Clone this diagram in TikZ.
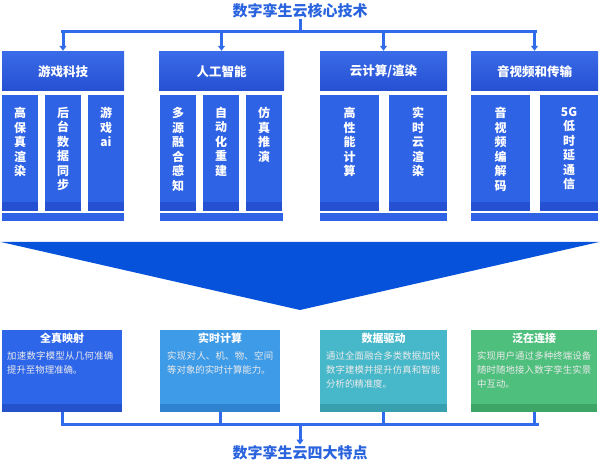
\documentclass[tikz,border=0pt]{standalone}
\usepackage{fontspec}
\setmainfont{Noto Sans CJK SC}
\XeTeXlinebreaklocale "zh"
\XeTeXlinebreakskip = 0pt plus 1pt
\usetikzlibrary{calc,arrows.meta}
\definecolor{mainblue}{HTML}{2F63E6}
\definecolor{darkblue}{HTML}{2550D2}
\definecolor{linkblue}{HTML}{2F6BEA}
\definecolor{titleblue}{HTML}{2A63DE}
\definecolor{tri}{HTML}{0752DA}
\definecolor{fa}{HTML}{2E66EA}\definecolor{fad}{HTML}{2452CC}
\definecolor{fb}{HTML}{3E9BE8}\definecolor{fbd}{HTML}{2F82CF}
\definecolor{fc}{HTML}{47B8C9}\definecolor{fcd}{HTML}{389FAE}
\definecolor{fd}{HTML}{4EBF7D}\definecolor{fdd}{HTML}{3DA566}
\begin{document}
\begin{tikzpicture}[x=1pt,y=-1pt,
  ttl/.style={font=\bfseries\fontsize{15}{18}\selectfont, text=titleblue, inner sep=1pt},
  hdr/.style={rectangle, top color=mainblue!95!white, bottom color=darkblue, draw=none, text=white, font=\bfseries\fontsize{12.5}{14}\selectfont, inner sep=0pt},
  colbox/.style={rectangle, fill=mainblue, inner sep=0pt},
  strip/.style={rectangle, fill=mainblue, inner sep=0pt},
  coltxt/.style={anchor=north, text=white, align=center, font=\bfseries\fontsize{12}{14.5}\selectfont, inner sep=0pt},
  link/.style={draw=linkblue, line width=3pt},
  arr/.style={link, -{Triangle[width=7pt,length=5pt]}},
  feat/.style={rectangle, inner sep=0pt, minimum height=82pt},
  ftitle/.style={anchor=north, text=white, font=\bfseries\fontsize{11}{13}\selectfont, inner sep=0pt},
  fdesc/.style={anchor=north west, text=white!92!black, font=\fontsize{9.4}{14}\selectfont, inner sep=0pt, align=justify},
]
\useasboundingbox (0,0) rectangle (600,465);

% top title and bracket
\node[ttl] (t1) at (300,11) {数字孪生云核心技术};
\coordinate (hub) at (300,32);
\coordinate (hl) at (62.5,32);
\coordinate (hr) at (535.5,32);
\draw[link] (t1.south) -- (hub);
\draw[link, line cap=rect] (hl) -- (hr);

% headers
\node[hdr, minimum width=122pt, minimum height=39pt] (h1) at (63,71.5) {游戏科技};
\node[hdr, minimum width=125pt, minimum height=39pt] (h2) at (221.5,71.5) {人工智能};
\node[hdr, minimum width=127pt, minimum height=39pt] (h3) at (383.5,71.5) {云计算/渲染};
\node[hdr, minimum width=127pt, minimum height=39pt] (h4) at (534.5,71.5) {音视频和传输};
\foreach \h in {1,2,3,4} {
  \coordinate (a\h) at (h\h.north |- hub);
  \draw[arr] (a\h) -- ([yshift=1pt]h\h.north);
}

% columns group 1
\node[colbox, minimum width=36pt, minimum height=115pt] (c11) at (20,153) {};
\node[colbox, minimum width=36pt, minimum height=115pt] (c12) at (63,153) {};
\node[colbox, minimum width=36pt, minimum height=115pt] (c13) at (106,153) {};
% group 2
\node[colbox, minimum width=36pt, minimum height=115pt] (c21) at (178,153) {};
\node[colbox, minimum width=36pt, minimum height=115pt] (c22) at (221,153) {};
\node[colbox, minimum width=36pt, minimum height=115pt] (c23) at (264,153) {};
% group 3
\node[colbox, minimum width=59pt, minimum height=115pt] (c31) at (349.5,153) {};
\node[colbox, minimum width=58pt, minimum height=115pt] (c32) at (418,153) {};
% group 4
\node[colbox, minimum width=59pt, minimum height=115pt] (c41) at (500.5,153) {};
\node[colbox, minimum width=58pt, minimum height=115pt] (c42) at (569,153) {};
\foreach \c in {c11,c12,c13,c21,c22,c23,c31,c32,c41,c42} {
  \fill[darkblue] ($(\c.south west)+(0,-9)$) rectangle (\c.south east);
}

\node[coltxt] (x11) at (20,107) {高\\保\\真\\渲\\染};
\node[coltxt] (x12) at (63,107) {后\\台\\数\\据\\同\\步};
\node[coltxt] (x13) at (106,107) {游\\戏\\ai};
\node[coltxt] (x21) at (178,107) {多\\源\\融\\合\\感\\知};
\node[coltxt] (x22) at (221,107) {自\\动\\化\\重\\建};
\node[coltxt] (x23) at (264,107) {仿\\真\\推\\演};
\node[coltxt] (x31) at (349.5,107) {高\\性\\能\\计\\算};
\node[coltxt] (x32) at (418,107) {实\\时\\云\\渲\\染};
\node[coltxt] (x41) at (500.5,107) {音\\视\\频\\编\\解\\码};
\node[coltxt] (x42) at (569,107) {5G\\低\\时\\延\\通\\信};

% bottom strips
\node[strip, minimum width=122pt, minimum height=8pt] (s1) at (63,217) {};
\node[strip, minimum width=123pt, minimum height=8pt] (s2) at (221,217) {};
\node[strip, minimum width=127pt, minimum height=8pt] (s3) at (383.5,217) {};
\node[strip, minimum width=127pt, minimum height=8pt] (s4) at (534.5,217) {};

% big triangle
\coordinate (tl) at (1,242);
\coordinate (tr) at (599,242);
\coordinate (tt) at (300,310);
\fill[tri] (tl) -- (tr) -- (tt) -- cycle;

% feature boxes
\node[feat, fill=fa, minimum width=120pt] (f1) at (62,371) {};
\node[feat, fill=fb, minimum width=120pt] (f2) at (220,371) {};
\node[feat, fill=fc, minimum width=127pt] (f3) at (383.5,371) {};
\node[feat, fill=fd, minimum width=126pt] (f4) at (534,371) {};
\fill[fad] ($(f1.south west)+(0,-8)$) rectangle (f1.south east);
\fill[fbd] ($(f2.south west)+(0,-8)$) rectangle (f2.south east);
\fill[fcd] ($(f3.south west)+(0,-8)$) rectangle (f3.south east);
\fill[fdd] ($(f4.south west)+(0,-8)$) rectangle (f4.south east);

\node[ftitle] (ft1) at (62,333) {全真映射};
\node[ftitle] (ft2) at (220,333) {实时计算};
\node[ftitle] (ft3) at (383.5,333) {数据驱动};
\node[ftitle] (ft4) at (534,333) {泛在连接};

\node[fdesc, text width=106pt] (fd1) at (7,351) {加速数字模型从几何准确提升至物理准确。};
\node[fdesc, text width=106pt] (fd2) at (167,351) {实现对人、机、物、空间等对象的实时计算能力。};
\node[fdesc, text width=114pt] (fd3) at (326,351) {通过全面融合多类数据加快数字建模并提升仿真和智能分析的精准度。};
\node[fdesc, text width=114pt] (fd4) at (477,351) {实现用户通过多种终端设备随时随地接入数字孪生实景中互动。};

% bottom bracket
\coordinate (bl) at (62,424);
\coordinate (br) at (537,424);
\coordinate (bh) at (300,424);
\foreach \f in {1,2,3,4} {
  \draw[link] (f\f.south) -- (f\f.south |- bh);
}
\draw[link, line cap=rect] (bl) -- (br);
\node[ttl] (t2) at (300,453) {数字孪生云四大特点};
\draw[arr] (bh) -- (t2.north);
\end{tikzpicture}
\end{document}
